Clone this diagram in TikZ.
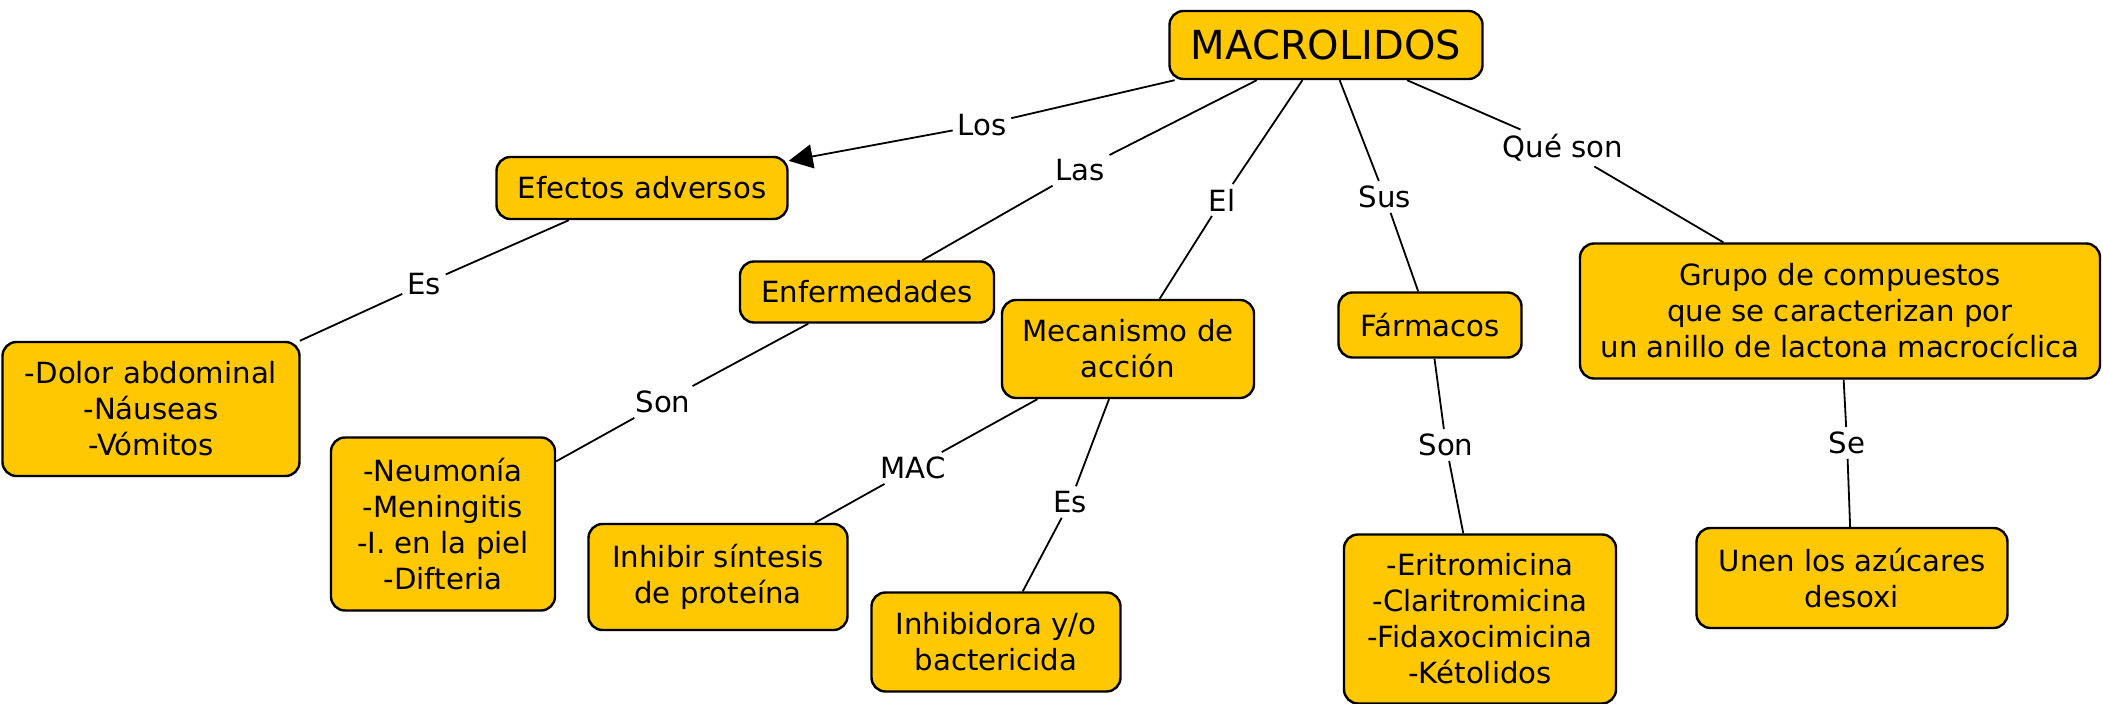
\documentclass[tikz,border=0pt]{standalone}
\usepackage{fontspec}
\setmainfont{DejaVu Sans}
\usetikzlibrary{arrows.meta}
\definecolor{mango}{RGB}{255,200,0}

\begin{document}
\begin{tikzpicture}[x=0.5pt,y=-0.5pt,>={Triangle[length=12pt,width=12pt]},line width=0.9pt,
  cbox/.style={draw,fill=mango,rounded corners=7pt,line width=1.2pt,align=center,inner sep=2pt,
    font=\fontsize{14.6}{18}\selectfont},
  lword/.style={align=center,inner sep=2pt,font=\fontsize{14.6}{18}\selectfont}]
 %\draw[help lines] (0,0) grid[step=100] (2103,704);
 \useasboundingbox (0,0) rectangle (2103,704);

 % conceptos
 \node[cbox,minimum width=156.5pt,minimum height=34pt,font=\fontsize{20}{24}\selectfont]
              (macro)   at (1326,45)  {MACROLIDOS};
 \node[cbox,minimum width=145.5pt,minimum height=31pt]   (efectos) at (642,188)  {Efectos adversos};
 \node[cbox,minimum width=148.5pt,minimum height=67pt]   (dolor)   at (151,409)  {-Dolor abdominal\\-Náuseas\\-Vómitos};
 \node[cbox,minimum width=127pt,minimum height=30.5pt]   (enferm)  at (867,292)  {Enfermedades};
 \node[cbox,minimum width=112pt,minimum height=86.5pt]   (neumo)   at (443,524)  {-Neumonía\\-Meningitis\\-I. en la piel\\-Difteria};
 \node[cbox,minimum width=126pt,minimum height=49pt]     (mecan)   at (1128,349) {Mecanismo de\\acción};
 \node[cbox,minimum width=129.5pt,minimum height=53pt]   (inhibir) at (718,577)  {Inhibir síntesis\\de proteína};
 \node[cbox,minimum width=124.5pt,minimum height=49.5pt] (inhibid) at (996,642)  {Inhibidora y/o\\bactericida};
 \node[cbox,minimum width=91.5pt,minimum height=32.5pt]  (farmac)  at (1430,325) {Fármacos};
 \node[cbox,minimum width=136pt,minimum height=84.5pt]   (eritro)  at (1480,619) {-Eritromicina\\-Claritromicina\\-Fidaxocimicina\\-Kétolidos};
 \node[cbox,minimum width=260pt,minimum height=67.5pt]   (grupo)   at (1840,311) {Grupo de compuestos\\que se caracterizan por\\un anillo de lactona macrocíclica};
 \node[cbox,minimum width=155.5pt,minimum height=50pt]   (unen)    at (1852,578) {Unen los azúcares\\desoxi};

 % palabras de enlace
 \node[lword] (los)   at (982,125)  {Los};
 \node[lword] (es)    at (424,284)  {Es};
 \node[lword] (las)   at (1080,170) {Las};
 \node[lword] (el)    at (1222,200) {El};
 \node[lword] (sus)   at (1385,197) {Sus};
 \node[lword] (queson) at (1563,148) {Qué son};
 \node[lword] (son)   at (663,402)  {Son};
 \node[lword] (mac)   at (913,468)  {MAC};
 \node[lword] (esb)   at (1070,502) {Es};
 \node[lword] (sonb)  at (1446,445) {Son};
 \node[lword] (se)    at (1847,443) {Se};

 \path (macro)   edge      (los)
       (los)     edge [->] (efectos)
       (efectos) edge      (es)
       (es)      edge      (dolor)
       (macro)   edge      (las)
       (las)     edge      (enferm)
       (enferm)  edge      (son)
       (son)     edge      (neumo)
       (macro)   edge      (el)
       (el)      edge      (mecan)
       (mecan)   edge      (mac)
       (mac)     edge      (inhibir)
       (mecan)   edge      (esb)
       (esb)     edge      (inhibid)
       (macro)   edge      (sus)
       (sus)     edge      (farmac)
       (farmac)  edge      (sonb)
       (sonb)    edge      (eritro)
       (macro)   edge      (queson)
       (queson)  edge      (grupo)
       (grupo)   edge      (se)
       (se)      edge      (unen);
\end{tikzpicture}
\end{document}
